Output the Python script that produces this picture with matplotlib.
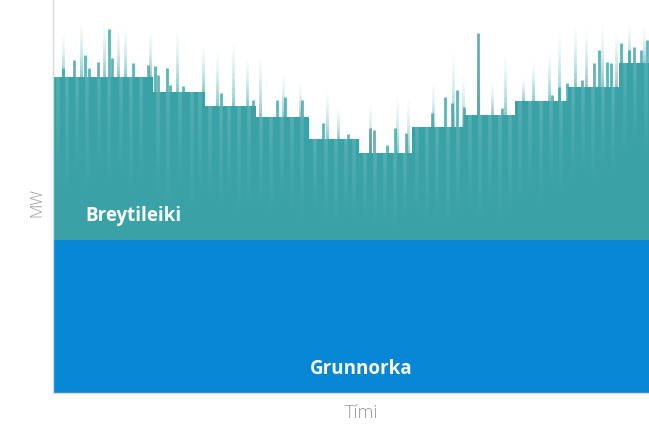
import numpy as np
import matplotlib
matplotlib.use('Agg')
import matplotlib.pyplot as plt
from matplotlib.collections import LineCollection

plt.rcParams['font.family'] = ['Open Sans', 'DejaVu Sans']

######## data (x in days, y in arbitrary MW)
month_edges = [0, 59, 90, 120, 151, 181, 212, 243, 273, 304, 334, 365]
total_level = [316, 301, 287, 276, 254, 240, 266, 278, 292, 306, 330]
base_load = 153

# short solid peaks above the monthly level
peak_day = [5.9, 12.4, 18.9, 21.2, 26.6, 33.0, 34.8, 47.2, 56.1, 60.2, 62.0, 67.3, 69.0,
            76.7, 99.1, 118.0, 132.2, 136.9, 146.9, 159.3, 174.1, 187.0, 189.4, 197.1,
            201.8, 208.3, 223.6, 231.3, 235.4, 238.4, 242.5, 250.8, 264.9, 295.0, 299.1,
            303.3, 312.7, 319.8, 322.7, 326.9, 329.8, 335.7, 340.4, 343.4, 347.5, 351.1]
peak_val = [325, 333, 338, 325, 331, 364, 335, 330, 328, 327, 318, 325, 308,
            307, 300, 293, 293, 296, 293, 270, 259, 265, 263, 248,
            265, 260, 280, 296, 290, 303, 286, 360, 285, 298, 306,
            310, 313, 330, 343, 331, 330, 350, 343, 346, 343, 353]

# tall faint peaks (fade out upwards)
spike_day = [5.9, 16.5, 30.1, 38.4, 42.5, 57.2, 73.2, 88.5, 96.8, 106.2, 114.5, 122.1,
             135.7, 145.7, 161.7, 168.2, 187.0, 203.0, 209.5, 224.2, 236.0, 241.9, 250.8,
             259.0, 266.7, 277.3, 283.2, 293.2, 299.1, 308.0, 315.0, 324.5, 332.8, 340.4,
             349.3]
spike_val = [360, 373, 373, 366, 366, 363, 366, 350, 343, 353, 336, 340,
             320, 310, 303, 286, 293, 300, 296, 310, 343, 320, 360,
             313, 340, 316, 333, 343, 363, 370, 366, 370, 363, 370,
             366]

# short dips inside the variable band (lighter streaks)
dip_day = [3, 8, 14, 20, 27, 33, 40, 46, 52, 62, 68, 75, 82, 87, 93, 99, 104, 110, 116,
           123, 129, 135, 141, 147, 155, 161, 167, 173, 178, 184, 190, 196, 202, 208,
           215, 221, 227, 233, 239, 246, 252, 258, 264, 270, 276, 282, 288, 294, 300,
           307, 313, 319, 325, 331, 338, 344, 350]
dip_val = [215, 200, 225, 205, 230, 210, 220, 200, 215, 200, 190, 210, 185, 205, 195, 185,
           200, 180, 190, 190, 180, 195, 185, 175, 185, 175, 170, 180, 172, 175, 168, 172,
           165, 178, 180, 170, 175, 168, 182, 185, 175, 190, 172, 180, 195, 205, 190, 210,
           200, 215, 225, 210, 230, 220, 240, 250, 235]

teal = '#3aa2a7'
blue = '#0686d5'


def level_at(d):
    i = np.searchsorted(month_edges, d, side='right') - 1
    return total_level[min(max(i, 0), len(total_level) - 1)]


def fade_segments(xs, y0s, y1s, n=14):
    segs, alphas = [], []
    for x, y0, y1 in zip(xs, y0s, y1s):
        ys = np.linspace(y0, y1, n + 1)
        for k in range(n):
            segs.append([(x, ys[k]), (x, ys[k + 1])])
            alphas.append(1.0 - k / n)
    return segs, np.array(alphas)


fig = plt.figure(figsize=(6.49, 4.25), dpi=100)
ax = fig.add_axes([53 / 649, 32 / 425, 596 / 649, 393 / 425])

# base load and variable part
ax.stairs([base_load] * len(total_level), month_edges, baseline=0, fill=True, color=blue, zorder=2)
ax.stairs(total_level, month_edges, baseline=base_load, fill=True, color=teal, zorder=2)

# faint tall spikes
levels = [level_at(d) for d in spike_day]
segs, al = fade_segments(spike_day, levels, spike_val)
cols = np.tile(matplotlib.colors.to_rgba(teal), (len(segs), 1))
cols[:, 3] = al ** 1.6 * 0.6
ax.add_collection(LineCollection(segs, colors=cols, linewidths=2.0, zorder=3))

# solid short peaks
for d, v in zip(peak_day, peak_val):
    ax.vlines(d, level_at(d) - 1, v, color=teal, alpha=0.8, lw=2.0, zorder=3)

# light streaks inside the band
levels = [level_at(d) for d in dip_day]
segs, al = fade_segments(dip_day, levels, dip_val)
cols = np.tile(matplotlib.colors.to_rgba('white'), (len(segs), 1))
cols[:, 3] = al * 0.13
ax.add_collection(LineCollection(segs, colors=cols, linewidths=2.6, zorder=3))

ax.set_xlim(0, 352)
ax.set_ylim(0, 393)
ax.set_xticks([])
ax.set_yticks([])
for s in ['top', 'right']:
    ax.spines[s].set_visible(False)
for s in ['left', 'bottom']:
    ax.spines[s].set_color('#d9d9d9')
    ax.spines[s].set_linewidth(1.0)
    ax.spines[s].set_zorder(4)

ax.text(19, 177, 'Breytileiki', color='white', fontsize=13.5, fontweight='bold',
        ha='left', va='center', zorder=5)
ax.text(182, 24, 'Grunnorka', color='white', fontsize=13.5, fontweight='bold',
        ha='center', va='center', zorder=5)

fig.text(37 / 649, 1 - 202 / 425, 'MW', rotation=90, color='#9a9a9a', fontsize=12,
         fontweight='light', ha='center', va='center')
fig.text(362 / 649, 1 - 413 / 425, 'Tími', color='#9a9a9a', fontsize=13,
         fontweight='light', ha='center', va='center')

fig.savefig('out.png', dpi=100)
plt.close(fig)
